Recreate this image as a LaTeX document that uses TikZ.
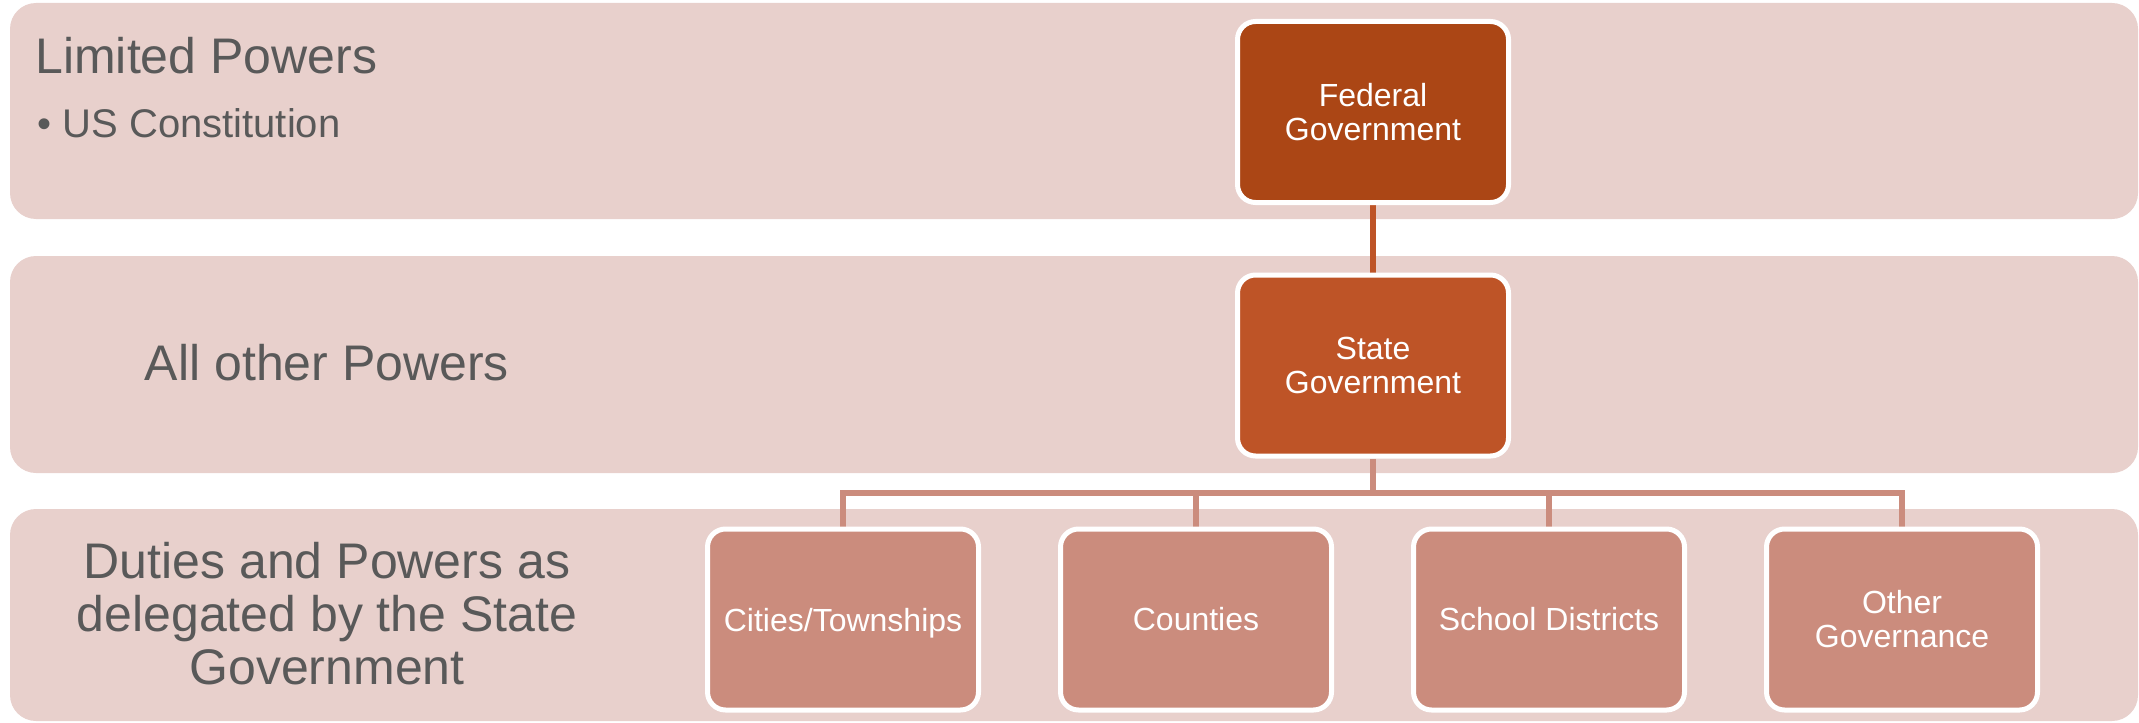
\documentclass[tikz,border=0pt]{standalone}
\usepackage{fontspec}
\setmainfont{Liberation Sans}
\pgfdeclarelayer{bands}
\pgfdeclarelayer{conn}
\pgfsetlayers{bands,conn,main}
\definecolor{bandc}{HTML}{E8D0CC}
\definecolor{fedc}{HTML}{AB4615}
\definecolor{statec}{HTML}{BE5427}
\definecolor{localc}{HTML}{CB8C7D}
\definecolor{txtc}{HTML}{595959}
\begin{document}
\begin{tikzpicture}[x=0.5pt,y=-0.5pt,
  band/.style={fill=bandc, rounded corners=13pt},
  govbox/.style={draw=white, line width=2.5pt, rounded corners=9pt,
    minimum width=135.5pt, minimum height=90.5pt, text=white,
    font=\fontsize{16}{17}\selectfont, align=center, inner sep=2pt},
  lbl/.style={text=txtc, inner sep=0pt, font=\fontsize{25}{26.5}\selectfont},
  sublbl/.style={text=txtc, inner sep=0pt, font=\fontsize{20}{20}\selectfont},
  conn/.style={line width=2.6pt}]
\useasboundingbox (0,0) rectangle (2139,722);
\begin{pgfonlayer}{bands}
  \fill[band] (10,3) rectangle (2138,219);
  \fill[band] (10,256) rectangle (2138,473);
  \fill[band] (10,509) rectangle (2138,721);
\end{pgfonlayer}
% labels
\node[lbl, anchor=base west] (lim) at (35,74) {Limited Powers};
\node[sublbl, anchor=base west] (usc) at (37,137) {• US Constitution};
\node[lbl, anchor=base] (allo) at (327,380) {All other Powers};
\node[lbl, align=center] (duty) at (327,614) {Duties and Powers as\\delegated by the State\\Government};
% boxes
\node[govbox, fill=fedc] (fed) at (1373,112) {Federal\\Government};
\node[govbox, fill=statec] (state) at (1373,365.5) {State\\Government};
\node[govbox, fill=localc, text depth=0pt] (c1) at (843,619.5) {Cities/Townships};
\node[govbox, fill=localc] (c2) at (1196,619.5) {Counties};
\node[govbox, fill=localc] (c3) at (1549,619.5) {School Districts};
\node[govbox, fill=localc] (c4) at (1902,619.5) {Other\\Governance};
\coordinate (bus) at (1373,493);
\begin{pgfonlayer}{conn}
  \draw[conn, statec] (fed.south) -- (state.north);
  \draw[conn, localc] (state.south) -- (bus) -| (c1.north);
  \draw[conn, localc] (bus) -| (c2.north);
  \draw[conn, localc] (bus) -| (c3.north);
  \draw[conn, localc] (bus) -| (c4.north);
\end{pgfonlayer}
\end{tikzpicture}
\end{document}
